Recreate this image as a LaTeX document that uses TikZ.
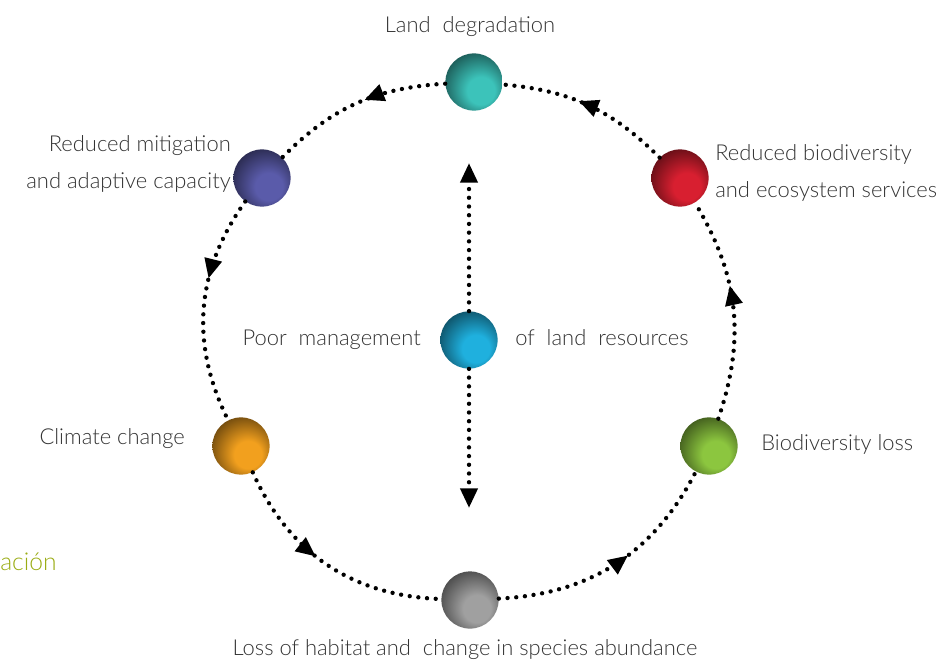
\documentclass[tikz,border=0pt]{standalone}
\usepackage{fontspec}
\setmainfont{Lato}[UprightFont={* Light}]
\usetikzlibrary{arrows.meta,decorations.markings}
\tikzset{>={Triangle[length=14pt,width=12pt]}}

\definecolor{txt}{HTML}{333333}
\definecolor{olive}{HTML}{9AAC14}
\definecolor{tealball}{HTML}{3CC3BA}
\definecolor{navyball}{HTML}{5A5BAA}
\definecolor{redball}{HTML}{D81F30}
\definecolor{blueball}{HTML}{1FB0DE}
\definecolor{orangeball}{HTML}{F2A01E}
\definecolor{greenball}{HTML}{8CC63F}
\definecolor{grayball}{HTML}{A0A0A0}
\colorlet{orbcol}{black}
\pgfdeclareradialshading[orbcol]{orb}{\pgfqpoint{8bp}{-10bp}}{color(0bp)=(orbcol); color(12bp)=(orbcol); color(40bp)=(orbcol!22!black); color(50bp)=(orbcol!22!black)}

\tikzset{
  orb/.style={circle, inner sep=0pt, minimum size=1.43cm, shading=orb, /utils/exec={\colorlet{orbcol}{#1}}},
  dots/.style={line width=3.1pt, dash pattern=on 0pt off 6.2pt, line cap=round},
  midarrow/.style={postaction={decorate, decoration={markings, mark=at position #1 with {\arrow{>}}}}},
  lbl/.style={text=txt, font=\fontsize{15.6}{18}\selectfont, inner sep=0pt}
}

\begin{document}
\begin{tikzpicture}[x=0.025cm, y=0.025cm]
    \useasboundingbox (0,0) rectangle (944,660);

    \node[orb=tealball] (land) at (474,578) {};
    \node[orb=navyball] (mitig) at (262,482) {};
    \node[orb=redball] (biod) at (680,482) {};
    \node[orb=blueball] (poor) at (469,320) {};
    \node[orb=orangeball] (clim) at (241,214) {};
    \node[orb=greenball] (loss) at (709,214) {};
    \node[orb=grayball] (habit) at (470,60) {};

    \node[lbl, anchor=base] (landtxt) at (470,627) {Land\ \ degradation};
    \node[lbl, anchor=base east] (mitigtxt) at (231,509) {Reduced mitigation};
    \node[lbl, anchor=base east] (mitigtxtb) at (231,472) {and adaptive capacity};
    \node[lbl, anchor=base west] (biodtxt) at (715,499) {Reduced biodiversity};
    \node[lbl, anchor=base west] (biodtxtb) at (715,463) {and ecosystem services};
    \node[lbl, anchor=base east] (poortxt) at (421,315) {Poor\ \ management};
    \node[lbl, anchor=base west] (poortxtb) at (515,315) {of\ \ land\ \ resources};
    \node[lbl, anchor=base east] (climtxt) at (185,216) {Climate change};
    \node[lbl, anchor=base west] (losstxt) at (761,210) {Biodiversity loss};
    \node[lbl, anchor=base] (habittxt) at (465,5) {Loss of habitat and\ \ change in species abundance};
    \node[lbl, text=olive, font=\fontsize{17.5}{20}\selectfont, anchor=base west] (desert) at (0,90) {ación};

    \draw[dots, midarrow=0.45] (land) to[bend right=21] (mitig);
    \draw[dots, midarrow=0.37] (mitig) to[bend right=31] (clim);
    \draw[dots, midarrow=0.44] (clim) to[bend right=32] (habit);
    \draw[dots, midarrow=0.56] (habit) to[bend right=30] (loss);
    \draw[dots, midarrow=0.6] (loss) to[bend right=25] (biod);
    \draw[dots, midarrow=0.56] (biod) to[bend right=20] (land);

    \coordinate (up) at (469,497);
    \coordinate (down) at (469,152);
    \draw[dots, ->] (poor) -- (up);
    \draw[dots, ->] (poor) -- (down);
\end{tikzpicture}
\end{document}
